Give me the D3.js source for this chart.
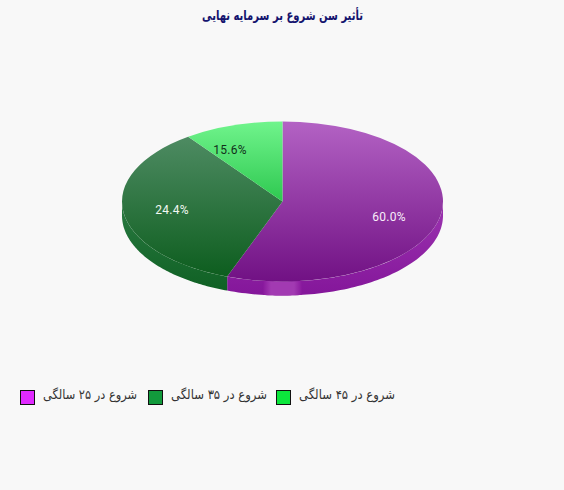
<!DOCTYPE html>
<html><head><meta charset="utf-8">
<script src="https://d3js.org/d3.v7.min.js"></script>
<style>html,body{margin:0;padding:0;background:#f8f8f8}svg{display:block}</style>
</head><body><div id="c"></div>
<script>
const titleText = "تأثیر سن شروع بر سرمایه نهایی";
const categories = ["شروع در ۲۵ سالگی","شروع در ۳۵ سالگی","شروع در ۴۵ سالگی"];
const sliceShares = [55.6, 34.4, 10.0];
const sliceLabels = ["60.0%","24.4%","15.6%"];
const legendColors = ["#e02aff","#129a3c","#0ce63c"];
const topStops = [["#b362c4","#711184"],["#55906a","#0b5c1c"],["#70f48c","#2ec850"]];
const sideStops = [["#9c34b0","#84169a"],["#2a7a42","#0e5f22"],["#2ec850","#2ec850"]];
const labelColors = ["#f8eefa","#f2f8f2","#12301a"];
const labelPos = [[389,217],[172,210],[230,150]];
const legendX = [[20,43,94],[148,171,96],[276,299,96]];

const W=564,H=490,cx=282.5,cy=201.5,rx=160.5,ry=80,depth=14;
const svg=d3.select("#c").append("svg").attr("width",W).attr("height",H);
svg.append("rect").attr("width",W).attr("height",H).attr("fill","#f8f8f8");
const defs=svg.append("defs");
const grad=(id,y1,y2,s)=>{
  const g=defs.append("linearGradient").attr("id",id).attr("gradientUnits","userSpaceOnUse")
    .attr("x1",0).attr("x2",0).attr("y1",y1).attr("y2",y2);
  g.append("stop").attr("offset",0).attr("stop-color",s[0]);
  g.append("stop").attr("offset",1).attr("stop-color",s[1]);
};
topStops.forEach((s,i)=>grad("g"+i,-rx,i==2?0:rx,s));
sideStops.forEach((s,i)=>grad("s"+i,cy,cy+ry+depth,s));
const hl=defs.append("linearGradient").attr("id","hl");
[[0,"#8a1a9e"],[.2,"#a23ab2"],[.8,"#a23ab2"],[1,"#8a1a9e"]].forEach(d=>hl.append("stop").attr("offset",d[0]).attr("stop-color",d[1]));

svg.append("text").attr("x",202).attr("y",20)
  .attr("textLength",161).attr("lengthAdjust","spacingAndGlyphs")
  .attr("font-family","DejaVu Sans").attr("font-size",13.5).attr("font-weight","bold").attr("fill","#14146e").text(titleText);

const arcs=d3.pie().sort(null).value(d=>d)(sliceShares);
const px=a=>cx+rx*Math.sin(a), py=a=>cy-ry*Math.cos(a);
const area=d3.area().x(px).y0(py).y1(a=>py(a)+depth);
const front=[Math.PI/2,3*Math.PI/2];
arcs.forEach((d,i)=>{
  const a0=Math.max(d.startAngle,front[0]),a1=Math.min(d.endAngle,front[1]);
  if(a1<=a0) return;
  const n=80, as=d3.range(n+1).map(k=>a0+(a1-a0)*k/n);
  svg.append("path").attr("d",area(as)).attr("fill",`url(#s${i})`);
});
// small highlight on the front of the wall
const hlA=d3.range(21).map(k=>Math.PI+0.12-0.24*k/20);
svg.append("path").attr("d",area(hlA)).attr("fill","url(#hl)");

const gTop=svg.append("g").attr("transform",`translate(${cx},${cy}) scale(1,${ry/rx})`);
const arc=d3.arc().innerRadius(0).outerRadius(rx);
gTop.selectAll("path").data(arcs).join("path").attr("d",arc).attr("fill",(d,i)=>`url(#g${i})`);

svg.selectAll("text.v").data(sliceLabels).join("text").attr("class","v")
  .attr("x",(d,i)=>labelPos[i][0]).attr("y",(d,i)=>labelPos[i][1]+4)
  .attr("text-anchor","middle").attr("font-family","Roboto").attr("font-size",12)
  .attr("letter-spacing",".3px")
  .attr("fill",(d,i)=>labelColors[i]).text(d=>d);

const lg=svg.selectAll("g.l").data(categories).join("g").attr("class","l");
lg.append("rect").attr("x",(d,i)=>legendX[i][0]+.5).attr("y",390.5).attr("width",14).attr("height",14)
  .attr("fill",(d,i)=>legendColors[i]).attr("stroke","#111");
lg.append("text").attr("x",(d,i)=>legendX[i][1]).attr("y",399)
  .attr("textLength",(d,i)=>legendX[i][2]).attr("lengthAdjust","spacingAndGlyphs")
  .attr("font-family","DejaVu Sans").attr("font-size",13).attr("fill","#333").text(d=>d);
</script></body></html>
